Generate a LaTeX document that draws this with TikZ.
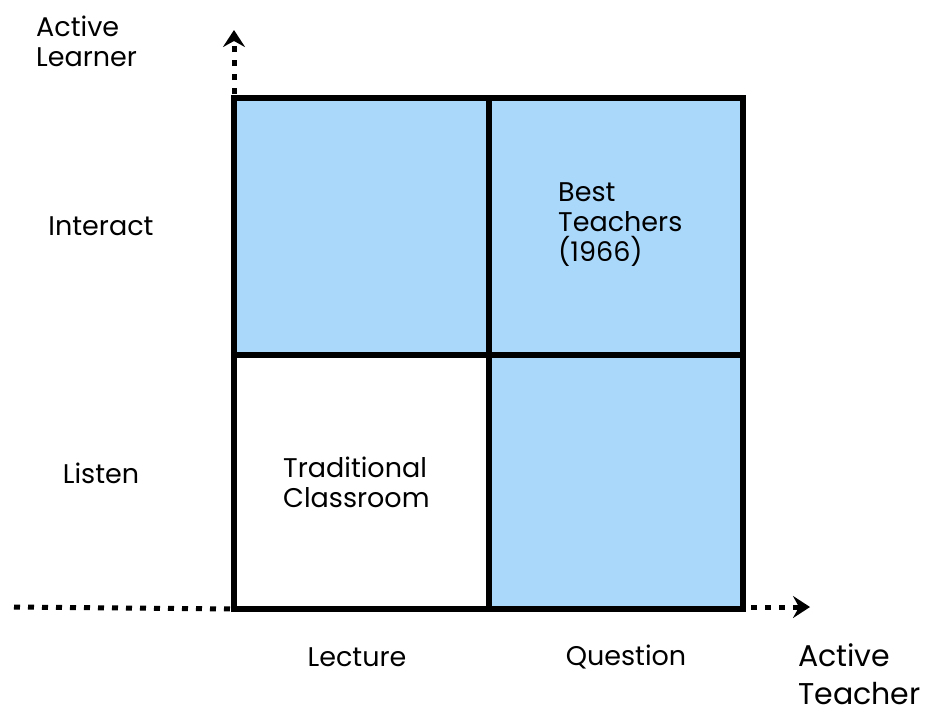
\documentclass[tikz,border=0pt]{standalone}
\usepackage{fontspec}
\setmainfont{Poppins}
\usetikzlibrary{arrows.meta}
\definecolor{cellblue}{HTML}{AAD8FB}
\tikzset{
	lbl/.style={font=\fontsize{27}{30}\selectfont, inner sep=0pt},
	biglbl/.style={font=\fontsize{30}{38}\selectfont, inner sep=0pt},
	axis/.style={line width=5pt, dash pattern=on 6pt off 8pt, -{Stealth[length=17pt,width=22pt,inset=6pt]}},
	grid/.style={line width=5.5pt}
}
\begin{document}
\begin{tikzpicture}[x=1pt,y=-1pt]
	\useasboundingbox (0,0) rectangle (928,713);
	\coordinate (tl) at (234,98);
	\coordinate (tm) at (489,98);
	\coordinate (tr) at (743,98);
	\coordinate (ml) at (234,355);
	\coordinate (mm) at (489,355);
	\coordinate (mr) at (743,355);
	\coordinate (bl) at (234,609);
	\coordinate (bm) at (489,609);
	\coordinate (br) at (743,609);
	\coordinate (ytip) at (234,30);
	\coordinate (xstart) at (14,607);
	\coordinate (xtip) at (810,607);
	% cells
	\fill[cellblue] (tl) rectangle (mm);
	\fill[cellblue] (tm) rectangle (mr);
	\fill[cellblue] (mm) rectangle (br);
	% axes
	\draw[line width=5pt, dash pattern=on 6pt off 8pt] (xstart) -- (bl);
	\draw[axis] (br) ++(8,-2) coordinate (xfrom) (xfrom) -- (xtip);
	\draw[axis] (tl) ++(0,-4) coordinate (yfrom) (yfrom) -- (ytip);
	% grid
	\draw[grid] (tl) rectangle (br);
	\draw[grid] (tm) -- (bm);
	\draw[grid] (ml) -- (mr);
	% labels
	\node (alearner) at (36,41) [lbl, anchor=west, align=left] {Active\\Learner};
	\node (interact) at (101,226) [lbl] {Interact};
	\node (listen) at (101,473) [lbl] {Listen};
	\node (lecture) at (357,657) [lbl] {Lecture};
	\node (question) at (626,657) [lbl] {Question};
	\node (ateacher) at (798,674) [biglbl, anchor=west, align=left] {Active\\Teacher};
	\node (best) at (558,225) [lbl, anchor=west, align=left] {Best\\Teachers\\(1966)};
	\node (trad) at (283,482) [lbl, anchor=west, align=left] {Traditional\\Classroom};
\end{tikzpicture}
\end{document}
